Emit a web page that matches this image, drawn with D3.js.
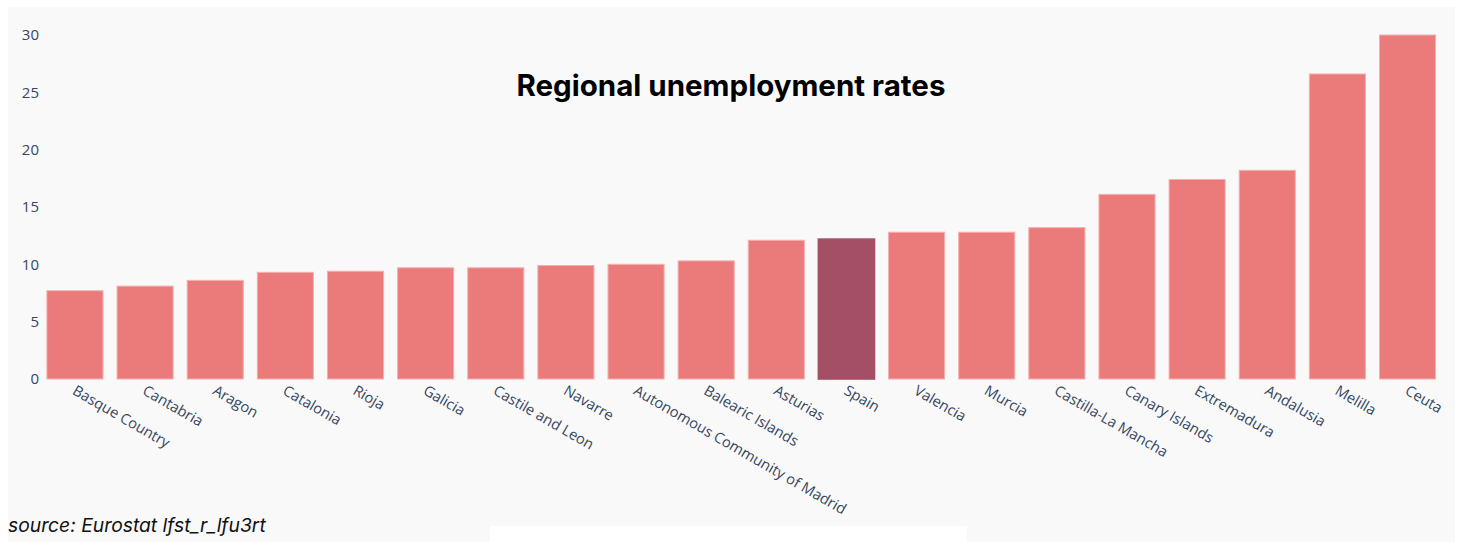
<!DOCTYPE html>
<html>
<head>
<meta charset="utf-8">
<script src="https://cdn.jsdelivr.net/npm/d3@7"></script>
<style>
  html, body { margin: 0; padding: 0; background: #ffffff; }
  svg { display: block; }
</style>
</head>
<body>
<svg id="chart" width="1461" height="542"></svg>
<script>
// Regional unemployment rates, Spain (%)
const regions = [
  "Basque Country", "Cantabria", "Aragon", "Catalonia", "Rioja", "Galicia",
  "Castile and Leon", "Navarre", "Autonomous Community of Madrid", "Balearic Islands",
  "Asturias", "Spain", "Valencia", "Murcia", "Castilla-La Mancha", "Canary Islands",
  "Extremadura", "Andalusia", "Melilla", "Ceuta"
];
const rates = [
  7.7, 8.1, 8.6, 9.3, 9.4, 9.7,
  9.7, 9.9, 10.0, 10.3,
  12.1, 12.2, 12.8, 12.8, 13.2, 16.1,
  17.4, 18.2, 26.6, 30.0
];
const yTicks = [0, 5, 10, 15, 20, 25, 30];
const nationalLabel = "Spain";

const titleText = "Regional unemployment rates";
const sourceText = "source: Eurostat lfst_r_lfu3rt";

const W = 1461, H = 542;
const svg = d3.select("#chart");

// panel background
svg.append("rect")
  .attr("x", 8).attr("y", 7)
  .attr("width", 1447).attr("height", H - 7)
  .attr("fill", "#f9f9f9");
svg.append("rect")
  .attr("x", 490).attr("y", 526)
  .attr("width", 477).attr("height", H - 526)
  .attr("fill", "#ffffff");

const x = d3.scaleBand()
  .domain(regions)
  .range([39.9, 1442.6])
  .paddingInner(0.2)
  .paddingOuter(0.1);

const y = d3.scaleLinear()
  .domain([0, 30])
  .range([379, 35]);

// y axis: labels only
const yAxis = svg.append("g")
  .attr("transform", "translate(45,0)")
  .call(d3.axisLeft(y).tickValues(yTicks).tickSize(0).tickPadding(6));
yAxis.select(".domain").remove();
yAxis.selectAll("text")
  .attr("fill", "#36465f")
  .style("font-family", "'Open Sans', sans-serif")
  .style("font-size", "15px");

// bars
const data = regions.map((r, i) => ({ region: r, rate: rates[i] }));
svg.append("g")
  .selectAll("rect")
  .data(data)
  .join("rect")
  .attr("x", d => x(d.region))
  .attr("y", d => y(d.rate))
  .attr("width", x.bandwidth())
  .attr("height", d => y(0) - y(d.rate))
  .attr("fill", d => d.region === nationalLabel ? "#a34f65" : "#eb7b7b")
  .attr("stroke", d => d.region === nationalLabel ? "#a34f65" : "#f3b0b0")
  .attr("stroke-width", d => d.region === nationalLabel ? 1.6 : 1);

// x axis: angled category labels
const xAxis = svg.append("g")
  .attr("transform", "translate(0,379)")
  .call(d3.axisBottom(x).tickSize(0).tickPadding(0));
xAxis.select(".domain").remove();
xAxis.selectAll(".tick text")
  .attr("fill", "#36465f")
  .style("font-family", "'Open Sans', sans-serif")
  .style("font-size", "14.7px")
  .attr("text-anchor", "start")
  .attr("x", 0)
  .attr("y", 0)
  .attr("dy", "0.75em")
  .attr("transform", "translate(2,5) rotate(30)");

// title
svg.append("text")
  .attr("x", 731)
  .attr("y", 96)
  .attr("text-anchor", "middle")
  .attr("fill", "#000000")
  .style("font-family", "Inter, sans-serif")
  .style("font-weight", "700")
  .style("font-size", "29.5px")
  .text(titleText);

// source note
svg.append("text")
  .attr("x", 8)
  .attr("y", 532)
  .attr("fill", "#111111")
  .style("font-family", "Inter, sans-serif")
  .style("font-style", "italic")
  .style("font-size", "19.3px")
  .text(sourceText);
</script>
</body>
</html>
